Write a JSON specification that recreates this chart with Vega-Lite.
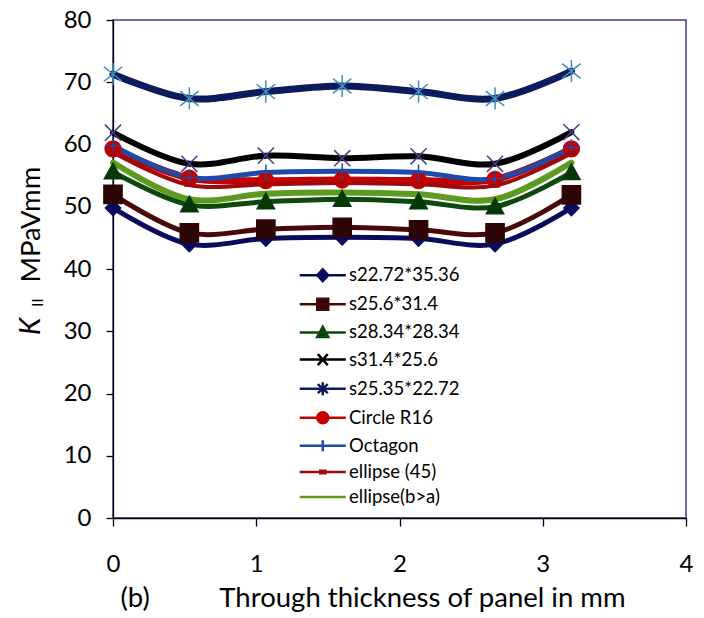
{
  "$schema": "https://vega.github.io/schema/vega-lite/v6.json",
  "width": 573,
  "height": 498,
  "autosize": "none",
  "padding": {"left": 113, "top": 20, "right": 18, "bottom": 100},
  "background": "white",
  "config": {
    "font": "Lato",
    "view": {"stroke": "#3b3b8f", "strokeWidth": 1.5},
    "axis": {
      "grid": false,
      "domainColor": "#000000",
      "domainWidth": 1.3,
      "tickColor": "#000000",
      "tickWidth": 1.3,
      "labelColor": "#000000",
      "titleColor": "#000000",
      "labelFont": "Lato",
      "titleFont": "Lato",
      "titleFontWeight": "normal"
    }
  },
  "title": {
    "text": "K",
    "orient": "left",
    "anchor": "start",
    "frame": "group",
    "font": "Lato",
    "fontStyle": "italic",
    "fontWeight": "normal",
    "fontSize": 28,
    "color": "#000000",
    "offset": -29,
    "dx": 183
  },
  "resolve": {
    "axis": {"y": "independent"},
    "scale": {"shape": "independent", "fill": "independent", "stroke": "independent", "size": "independent"}
  },
  "data": {
    "values": [
      {"s": "s22.72*35.36", "t": 0, "k": 49.8},
      {"s": "s22.72*35.36", "t": 0.533, "k": 44.0},
      {"s": "s22.72*35.36", "t": 1.067, "k": 44.9},
      {"s": "s22.72*35.36", "t": 1.6, "k": 45.1},
      {"s": "s22.72*35.36", "t": 2.133, "k": 44.9},
      {"s": "s22.72*35.36", "t": 2.667, "k": 44.0},
      {"s": "s22.72*35.36", "t": 3.2, "k": 49.8},
      {"s": "s25.6*31.4", "t": 0, "k": 52.0},
      {"s": "s25.6*31.4", "t": 0.533, "k": 45.8},
      {"s": "s25.6*31.4", "t": 1.067, "k": 46.4},
      {"s": "s25.6*31.4", "t": 1.6, "k": 46.7},
      {"s": "s25.6*31.4", "t": 2.133, "k": 46.3},
      {"s": "s25.6*31.4", "t": 2.667, "k": 45.8},
      {"s": "s25.6*31.4", "t": 3.2, "k": 51.9},
      {"s": "s28.34*28.34", "t": 0, "k": 55.6},
      {"s": "s28.34*28.34", "t": 0.533, "k": 50.3},
      {"s": "s28.34*28.34", "t": 1.067, "k": 50.8},
      {"s": "s28.34*28.34", "t": 1.6, "k": 51.2},
      {"s": "s28.34*28.34", "t": 2.133, "k": 50.8},
      {"s": "s28.34*28.34", "t": 2.667, "k": 50.0},
      {"s": "s28.34*28.34", "t": 3.2, "k": 55.5},
      {"s": "s31.4*25.6", "t": 0, "k": 61.9},
      {"s": "s31.4*25.6", "t": 0.533, "k": 56.9},
      {"s": "s31.4*25.6", "t": 1.067, "k": 58.2},
      {"s": "s31.4*25.6", "t": 1.6, "k": 57.8},
      {"s": "s31.4*25.6", "t": 2.133, "k": 58.1},
      {"s": "s31.4*25.6", "t": 2.667, "k": 56.9},
      {"s": "s31.4*25.6", "t": 3.2, "k": 62.0},
      {"s": "s25.35*22.72", "t": 0, "k": 71.3},
      {"s": "s25.35*22.72", "t": 0.533, "k": 67.4},
      {"s": "s25.35*22.72", "t": 1.067, "k": 68.5},
      {"s": "s25.35*22.72", "t": 1.6, "k": 69.4},
      {"s": "s25.35*22.72", "t": 2.133, "k": 68.5},
      {"s": "s25.35*22.72", "t": 2.667, "k": 67.4},
      {"s": "s25.35*22.72", "t": 3.2, "k": 71.8},
      {"s": "Circle R16", "t": 0, "k": 59.3},
      {"s": "Circle R16", "t": 0.533, "k": 54.6},
      {"s": "Circle R16", "t": 1.067, "k": 54.2},
      {"s": "Circle R16", "t": 1.6, "k": 54.3},
      {"s": "Circle R16", "t": 2.133, "k": 54.2},
      {"s": "Circle R16", "t": 2.667, "k": 54.4},
      {"s": "Circle R16", "t": 3.2, "k": 59.3},
      {"s": "Octagon", "t": 0, "k": 59.8},
      {"s": "Octagon", "t": 0.533, "k": 54.7},
      {"s": "Octagon", "t": 1.067, "k": 55.5},
      {"s": "Octagon", "t": 1.6, "k": 55.7},
      {"s": "Octagon", "t": 2.133, "k": 55.5},
      {"s": "Octagon", "t": 2.667, "k": 54.5},
      {"s": "Octagon", "t": 3.2, "k": 59.5},
      {"s": "ellipse (45)", "t": 0, "k": 58.7},
      {"s": "ellipse (45)", "t": 0.533, "k": 53.5},
      {"s": "ellipse (45)", "t": 1.067, "k": 53.6},
      {"s": "ellipse (45)", "t": 1.6, "k": 53.8},
      {"s": "ellipse (45)", "t": 2.133, "k": 53.6},
      {"s": "ellipse (45)", "t": 2.667, "k": 53.4},
      {"s": "ellipse (45)", "t": 3.2, "k": 58.6},
      {"s": "ellipse(b>a)", "t": 0, "k": 57.1},
      {"s": "ellipse(b>a)", "t": 0.533, "k": 51.2},
      {"s": "ellipse(b>a)", "t": 1.067, "k": 52.1},
      {"s": "ellipse(b>a)", "t": 1.6, "k": 52.3},
      {"s": "ellipse(b>a)", "t": 2.133, "k": 52.0},
      {"s": "ellipse(b>a)", "t": 2.667, "k": 51.2},
      {"s": "ellipse(b>a)", "t": 3.2, "k": 57.1}
    ]
  },
  "encoding": {
    "x": {
      "field": "t",
      "type": "quantitative",
      "scale": {"domain": [0, 4], "nice": false, "zero": false},
      "axis": {
        "values": [0, 1, 2, 3, 4],
        "format": "d",
        "tickSize": 8,
        "labelPadding": 26,
        "labelFontSize": 24,
        "labelFlush": false,
        "title": "(b)\u00a0\u00a0\u00a0\u00a0\u00a0\u00a0\u00a0\u00a0\u00a0\u00a0Through thickness of panel in mm",
        "titleFontSize": 27.5,
        "titleAnchor": "start",
        "titleAlign": "left",
        "titleBaseline": "alphabetic",
        "titleX": 7,
        "titleY": 88
      }
    }
  },
  "layer": [
    {
      "mark": {"type": "line", "interpolate": "catmull-rom", "strokeCap": "round", "strokeJoin": "round"},
      "encoding": {
        "y": {
          "field": "k",
          "type": "quantitative",
          "scale": {"domain": [0, 80], "nice": false},
          "axis": {
            "orient": "left",
            "values": [0, 10, 20, 30, 40, 50, 60, 70, 80],
            "tickSize": 7,
            "labelPadding": 15,
            "labelFontSize": 24,
            "title": "MPaVmm",
            "titleFontSize": 27.5,
            "titleAngle": 270,
            "titleAlign": "left",
            "titleBaseline": "middle",
            "titleX": -82,
            "titleY": 262
          }
        },
        "detail": {"field": "s"},
        "color": {
          "field": "s",
          "type": "nominal",
          "legend": null,
          "scale": {
            "domain": ["ellipse(b>a)", "ellipse (45)", "Octagon", "Circle R16", "s25.35*22.72", "s31.4*25.6", "s28.34*28.34", "s25.6*31.4", "s22.72*35.36"],
            "range": ["#5c9b1f", "#9e0a0a", "#1f4aa8", "#c40000", "#0c1b5c", "#000000", "#0b4a0b", "#4a0808", "#0b0b5e"]
          }
        },
        "strokeWidth": {
          "field": "s",
          "type": "nominal",
          "legend": null,
          "scale": {
            "type": "ordinal",
            "domain": ["ellipse(b>a)", "ellipse (45)", "Octagon", "Circle R16", "s25.35*22.72", "s31.4*25.6", "s28.34*28.34", "s25.6*31.4", "s22.72*35.36"],
            "range": [6, 4, 5, 7, 7, 6, 5, 5, 5]
          }
        }
      }
    },
    {
      "mark": {"type": "point", "filled": true, "opacity": 1, "strokeWidth": 1.5},
      "encoding": {
        "y": {
          "field": "k",
          "type": "quantitative",
          "axis": {
            "orient": "left",
            "domain": false,
            "ticks": false,
            "labels": false,
            "title": "II",
            "titleFontSize": 15,
            "titleAngle": 270,
            "titleAlign": "center",
            "titleBaseline": "middle",
            "titleX": -76,
            "titleY": 282
          }
        },
        "shape": {
          "field": "s",
          "type": "nominal",
          "legend": null,
          "scale": {
            "domain": ["ellipse(b>a)", "ellipse (45)", "Octagon", "Circle R16", "s25.35*22.72", "s31.4*25.6", "s28.34*28.34", "s25.6*31.4", "s22.72*35.36"],
            "range": [
              "M0,0Z",
              "M-0.6,-0.15H0.6V0.15H-0.6Z",
              "M-1,0L1,0M0,-1L0,1",
              "circle",
              "M-1,-0.8L1,0.8M-1,0.8L1,-0.8M0,-1.2L0,1.2",
              "M-1,-1L1,1M-1,1L1,-1",
              "M0,-1L1,0.8L-1,0.8Z",
              "square",
              "M0,-1L1,0L0,1L-1,0Z"
            ]
          }
        },
        "fill": {
          "field": "s",
          "type": "nominal",
          "legend": null,
          "scale": {
            "domain": ["ellipse(b>a)", "ellipse (45)", "Octagon", "Circle R16", "s25.35*22.72", "s31.4*25.6", "s28.34*28.34", "s25.6*31.4", "s22.72*35.36"],
            "range": ["transparent", "#9e0a0a", "transparent", "#c40000", "transparent", "transparent", "#063806", "#2e0505", "#0b0b5e"]
          }
        },
        "stroke": {
          "field": "s",
          "type": "nominal",
          "legend": null,
          "scale": {
            "domain": ["ellipse(b>a)", "ellipse (45)", "Octagon", "Circle R16", "s25.35*22.72", "s31.4*25.6", "s28.34*28.34", "s25.6*31.4", "s22.72*35.36"],
            "range": ["transparent", "#9e0a0a", "#1f4aa8", "#c40000", "#3f8fbf", "#4b3e8a", "#063806", "#2e0505", "#0b0b5e"]
          }
        },
        "size": {
          "field": "s",
          "type": "nominal",
          "legend": null,
          "scale": {
            "type": "ordinal",
            "domain": ["ellipse(b>a)", "ellipse (45)", "Octagon", "Circle R16", "s25.35*22.72", "s31.4*25.6", "s28.34*28.34", "s25.6*31.4", "s22.72*35.36"],
            "range": [10, 220, 260, 250, 340, 260, 300, 330, 230]
          }
        }
      }
    },
    {
      "mark": {"type": "point", "filled": true, "opacity": 0, "size": 100},
      "encoding": {
        "y": {"field": "k", "type": "quantitative", "axis": null},
        "shape": {
          "field": "s",
          "type": "nominal",
          "scale": {
            "domain": ["s22.72*35.36", "s25.6*31.4", "s28.34*28.34", "s31.4*25.6", "s25.35*22.72", "Circle R16", "Octagon", "ellipse (45)", "ellipse(b>a)"],
            "range": [
              "M-4.6,0H4.6M0,-1.2L1.1,0L0,1.2L-1.1,0Z",
              "M-4.6,0H4.6M-1.1,-1.1H1.1V1.1H-1.1Z",
              "M-4.6,0H4.6M0,-1.1L1.1,0.9H-1.1Z",
              "M-4.6,0H4.6M-1,-1.1L1,1.1M-1,1.1L1,-1.1",
              "M-4.6,0H4.6M-1,-0.9L1,0.9M-1,0.9L1,-0.9M0,-1.3V1.3",
              "M-4.6,0H4.6M1.1,0A1.1,1.1,0,1,1,-1.1,0A1.1,1.1,0,1,1,1.1,0Z",
              "M-4.6,0H4.6M0,-1.1V1.1",
              "M-4.6,0H4.6M-0.5,-0.25H0.5V0.25H-0.5Z",
              "M-4.6,0H4.6"
            ]
          },
          "legend": {
            "title": null,
            "orient": "none",
            "legendX": 182,
            "legendY": 246,
            "padding": 0,
            "symbolSize": 100,
            "symbolStrokeWidth": 2.5,
            "symbolOpacity": 1,
            "symbolOffset": 18.5,
            "labelOffset": 17,
            "labelFont": "Lato",
            "labelFontSize": 18.5,
            "labelColor": "#000000",
            "labelLimit": 300,
            "rowPadding": 6.1
          }
        },
        "fill": {
          "field": "s",
          "type": "nominal",
          "scale": {
            "domain": ["s22.72*35.36", "s25.6*31.4", "s28.34*28.34", "s31.4*25.6", "s25.35*22.72", "Circle R16", "Octagon", "ellipse (45)", "ellipse(b>a)"],
            "range": ["#0b0b5e", "#2e0505", "#063806", "transparent", "transparent", "#c40000", "transparent", "#9e0a0a", "transparent"]
          },
          "legend": {"title": null, "orient": "none", "legendX": 182, "legendY": 246}
        },
        "stroke": {
          "field": "s",
          "type": "nominal",
          "scale": {
            "domain": ["s22.72*35.36", "s25.6*31.4", "s28.34*28.34", "s31.4*25.6", "s25.35*22.72", "Circle R16", "Octagon", "ellipse (45)", "ellipse(b>a)"],
            "range": ["#0b0b5e", "#4a0808", "#0b4a0b", "#000000", "#0c1b5c", "#c40000", "#1f4aa8", "#9e0a0a", "#5c9b1f"]
          },
          "legend": {"title": null, "orient": "none", "legendX": 182, "legendY": 246}
        }
      }
    }
  ]
}
